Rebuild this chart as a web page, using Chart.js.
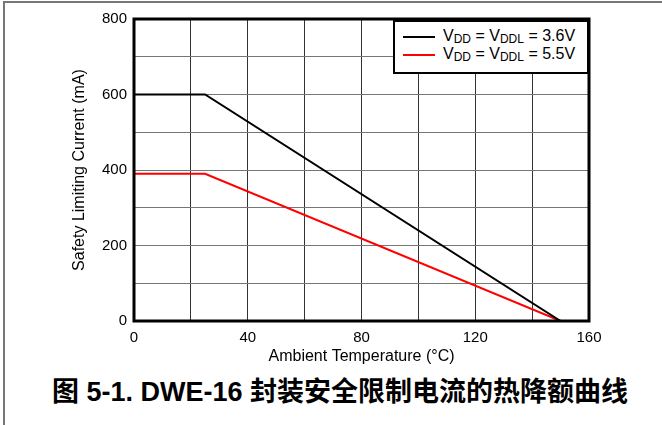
<!DOCTYPE html>
<html>
<head>
<meta charset="utf-8">
<script src="https://cdn.jsdelivr.net/npm/chart.js@4.4.0/dist/chart.umd.min.js"></script>
<style>
	body { margin: 0; background: #fff; }
	#page {
		position: relative;
		width: 662px;
		height: 425px;
		overflow: hidden;
		font-family: 'Liberation Sans', Arial, sans-serif;
	}
	#frame {
		position: absolute;
		left: 3px; top: 1px; right: -10px; bottom: -10px;
		border-top: 2px solid #777;
		border-left: 2px solid #777;
	}
	#wrap { position: absolute; left: 0; top: 0; width: 662px; height: 368px; }
	#legend {
		position: absolute;
		left: 393px; top: 20px;
		width: 192px; height: 50px;
		background: #fff;
		border: 2px solid #000;
		font-size: 16px;
		color: #000;
	}
	.item { position: absolute; left: 8px; height: 18px; line-height: 18px; white-space: nowrap; }
	.item .swatch { display: inline-block; width: 32px; height: 2px; vertical-align: middle; margin-right: 8px; }
	.item sub { font-size: 12px; vertical-align: -2px; line-height: 0; }
	#caption {
		position: absolute;
		left: 0; width: 680px; top: 370px;
		text-align: center;
		font-weight: bold;
		font-size: 27px;
		font-family: 'Liberation Sans', 'Noto Sans CJK SC', sans-serif;
		color: #000;
	}
</style>
</head>
<body>
<div id="page">
	<div id="frame"></div>
	<div id="wrap"><canvas id="myChart"></canvas></div>
	<div id="legend">
		<div class="item" style="top:5px"><span class="swatch" style="background:#000"></span>V<sub>DD</sub> = V<sub>DDL</sub> = 3.6V</div>
		<div class="item" style="top:23px"><span class="swatch" style="background:#ff0000"></span>V<sub>DD</sub> = V<sub>DDL</sub> = 5.5V</div>
	</div>
	<div id="caption">图 5-1. DWE-16 封装安全限制电流的热降额曲线</div>
</div>
<script>
// data
let temps = [0, 25, 150]
let current36 = [600, 600, 0]
let current55 = [390, 390, 0]
let xTicks = [0, 40, 80, 120, 160]
let yTicks = [0, 200, 400, 600, 800]

// thick frame around the plot area
let plotBorder = {
	id: 'plotBorder',
	afterDraw(chart) {
		let a = chart.chartArea
		let c = chart.ctx
		c.save()
		c.strokeStyle = '#000'
		c.lineWidth = 3
		c.strokeRect(a.left, a.top, a.right - a.left, a.bottom - a.top)
		c.restore()
	},
}

let ctx = document.getElementById('myChart').getContext('2d')
let myChart = new Chart(ctx, {
	type: 'line',
	data: {
		datasets: [
			{
				label: 'VDD = VDDL = 3.6V',
				data: temps.map((t, i) => ({ x: t, y: current36[i] })),
				borderColor: '#000',
				borderWidth: 2,
				pointRadius: 0,
				tension: 0,
			},
			{
				label: 'VDD = VDDL = 5.5V',
				data: temps.map((t, i) => ({ x: t, y: current55[i] })),
				borderColor: '#ff0000',
				borderWidth: 2,
				pointRadius: 0,
				tension: 0,
			},
		],
	},
	options: {
		responsive: true,
		maintainAspectRatio: false,
		animation: false,
		layout: { padding: { left: 66, right: 73, top: 19, bottom: 0 } },
		plugins: { legend: { display: false }, tooltip: { enabled: false } },
		scales: {
			x: {
				type: 'linear',
				min: 0,
				max: 160,
				afterFit(scale) { scale.height = 47 },
				ticks: {
					stepSize: 20,
					color: '#000',
					font: { family: 'Liberation Sans', size: 15 },
					padding: 8,
					maxRotation: 0,
					callback: (v) => (xTicks.includes(v) ? v : ''),
				},
				grid: { color: '#333', lineWidth: 1, drawTicks: false },
				border: { display: false },
				title: {
					display: true,
					text: 'Ambient Temperature (°C)',
					color: '#000',
					font: { family: 'Liberation Sans', size: 16 },
					padding: { top: 0, bottom: 2 },
				},
			},
			y: {
				min: 0,
				max: 800,
				afterFit(scale) { scale.width = 68 },
				ticks: {
					stepSize: 100,
					color: '#000',
					font: { family: 'Liberation Sans', size: 15 },
					padding: 7,
					callback: (v) => (yTicks.includes(v) ? v : ''),
				},
				grid: { color: '#777', lineWidth: 1, drawTicks: false },
				border: { display: false },
				title: {
					display: true,
					text: 'Safety Limiting Current (mA)',
					color: '#000',
					font: { family: 'Liberation Sans', size: 16 },
					padding: { top: 4, bottom: 0 },
				},
			},
		},
	},
	plugins: [plotBorder],
})
</script>
</body>
</html>
